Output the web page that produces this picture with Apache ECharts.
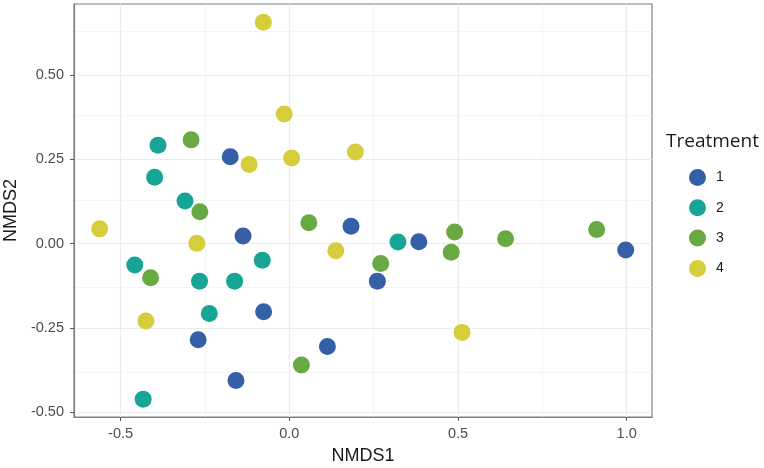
<!DOCTYPE html>
<html><head><meta charset="utf-8">
<script src="https://cdn.jsdelivr.net/npm/echarts@6/dist/echarts.min.js"></script>
<style>html,body{margin:0;padding:0;background:#fff}#c{width:764px;height:468px}</style>
</head><body><div id="c"></div>
<script>
const treatments = ['1','2','3','4'];
const colors = ['#3560a8','#17a596','#69a943','#d5cd3b'];
const t1 = [[-0.175,0.258],[0.183,0.052],[-0.137,0.023],[-0.076,-0.202],[-0.270,-0.285],[0.113,-0.305],[-0.158,-0.406],[0.261,-0.111],[0.384,0.006],[0.997,-0.019]];
const t2 = [[-0.389,0.292],[-0.399,0.197],[-0.309,0.127],[-0.458,-0.063],[-0.080,-0.049],[-0.266,-0.111],[-0.162,-0.111],[-0.237,-0.207],[-0.433,-0.461],[0.322,0.005]];
const t3 = [[-0.291,0.308],[-0.265,0.095],[0.058,0.062],[-0.411,-0.101],[0.036,-0.360],[0.271,-0.059],[0.490,0.035],[0.480,-0.025],[0.641,0.015],[0.911,0.042]];
const t4 = [[-0.077,0.657],[-0.015,0.385],[-0.119,0.235],[0.007,0.254],[0.196,0.272],[-0.562,0.044],[-0.274,0.001],[0.138,-0.021],[-0.425,-0.229],[0.512,-0.263]];
const xTicks = [-0.5,0,0.5,1.0];
const yTicks = [-0.5,-0.25,0,0.25,0.5];
const xMinor = [-0.25,0.25,0.75];
const yMinor = [-0.375,-0.125,0.125,0.375,0.625];
const xRange = [-0.638,1.075];
const yRange = [-0.514,0.711];

const chart = echarts.init(document.getElementById('c'));
const groups = [t1,t2,t3,t4];
const gridLines = [];
xMinor.forEach(v=>gridLines.push({xAxis:v,lineStyle:{color:'#f3f3f3',width:0.8,type:'solid'}}));
yMinor.forEach(v=>gridLines.push({yAxis:v,lineStyle:{color:'#f3f3f3',width:0.8,type:'solid'}}));
xTicks.forEach(v=>gridLines.push({xAxis:v,lineStyle:{color:'#ebebeb',width:1.2,type:'solid'}}));
yTicks.forEach(v=>gridLines.push({yAxis:v,lineStyle:{color:'#ebebeb',width:1.2,type:'solid'}}));

const series = [{
  type:'scatter', data:[], silent:true, z:0, zlevel:0,
  markLine:{silent:true,symbol:'none',label:{show:false},animation:false,z:0,data:gridLines}
}];
groups.forEach((g,i)=>series.push({
  name:treatments[i], type:'scatter', data:g, symbolSize:17,
  itemStyle:{color:colors[i],opacity:1}, z:5
}));

const axisFont = 'Liberation Sans';
chart.setOption({
  animation:false,
  backgroundColor:'#fff',
  grid:{left:74,right:112,top:4,bottom:51,outerBoundsMode:'none',containLabel:false,show:true,borderColor:'#7f7f7f',borderWidth:1.2,backgroundColor:'transparent'},
  title:{text:'Treatment',left:666,top:132,padding:0,textStyle:{fontFamily:'Open Sans',fontSize:19,fontWeight:'normal',color:'#1a1a1a'}},
  legend:{orient:'vertical',left:684,top:164,icon:'circle',itemWidth:17,itemHeight:17,itemGap:13.3,
    data:treatments,textStyle:{fontFamily:axisFont,fontSize:14,color:'#1a1a1a',padding:[0,0,0,5]}},
  xAxis:{type:'value',min:xRange[0],max:xRange[1],
    name:'NMDS1',nameLocation:'middle',nameGap:30,
    nameTextStyle:{fontFamily:axisFont,fontSize:18,color:'#1a1a1a'},
    axisLine:{show:true,onZero:false,lineStyle:{color:'#7f7f7f',width:1.2}},splitLine:{show:false},
    axisTick:{show:true,inside:false,customValues:xTicks,length:4,lineStyle:{color:'#555',width:1}},
    axisLabel:{customValues:xTicks,fontFamily:axisFont,fontSize:14.5,color:'#4d4d4d',margin:9,
      formatter:v=>v.toFixed(1)}},
  yAxis:{type:'value',min:yRange[0],max:yRange[1],
    name:'NMDS2',nameLocation:'middle',nameGap:50,nameRotate:90,
    nameTextStyle:{fontFamily:axisFont,fontSize:18,color:'#1a1a1a'},
    axisLine:{show:true,onZero:false,lineStyle:{color:'#7f7f7f',width:1.2}},splitLine:{show:false},
    axisTick:{show:true,inside:false,customValues:yTicks,length:4,lineStyle:{color:'#555',width:1}},
    axisLabel:{customValues:yTicks,fontFamily:axisFont,fontSize:14.5,color:'#4d4d4d',margin:10,
      formatter:v=>v.toFixed(2)}},
  series:series
});
</script></body></html>
